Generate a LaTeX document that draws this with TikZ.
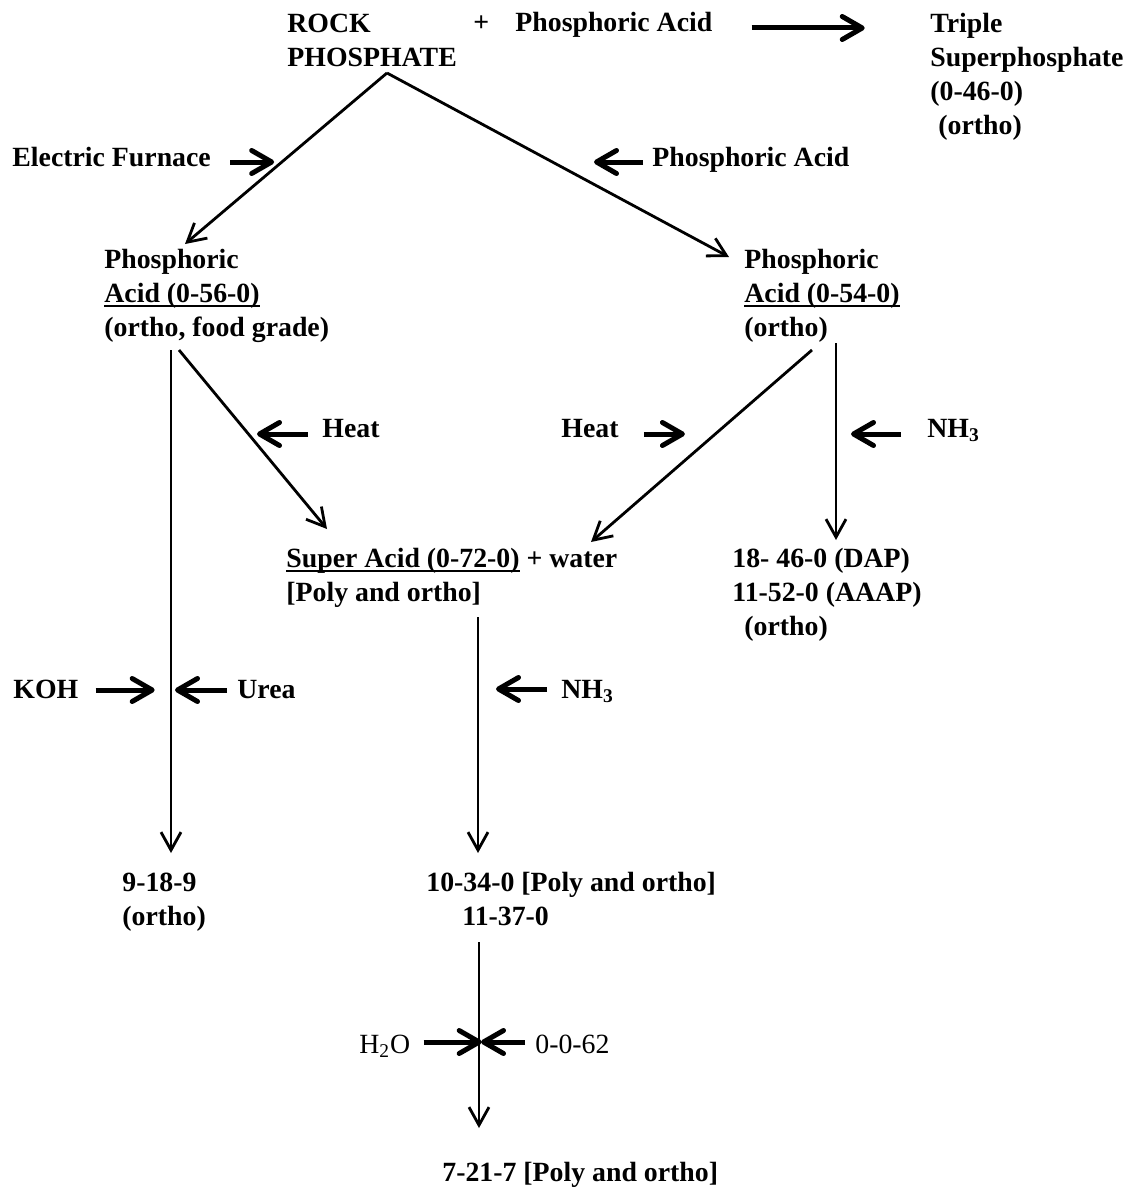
\documentclass[tikz,border=0pt]{standalone}
\usepackage{fontspec}
\setmainfont{Liberation Serif}
\usetikzlibrary{arrows.meta}
\newcommand\flowfont{\fontsize{13.9}{17}\selectfont}
\newcommand\ulbox[1]{\setbox0\hbox{#1}\rlap{\rule[-2.6pt]{\wd0}{1.1pt}}\box0\relax}
\tikzset{
  lbl/.style={anchor=base west, inner sep=0pt, align=left},
  flow/.style={line width=1.4pt, -{Straight Barb[length=9pt,width=10pt]}},
  feed/.style={line width=2.5pt, -{Straight Barb[length=10pt,width=11.5pt,round]}},
}
\begin{document}
\begin{tikzpicture}[x=0.5pt, y=-0.5pt, font=\flowfont\bfseries]
\useasboundingbox (0,0) rectangle (1128,1188);
% base west of a multi-line label sits on its last line
\node[lbl] (rock) at (287, 67) {ROCK\\PHOSPHATE}; % rock
\node[lbl] (plus) at (473, 32) {+}; % plus
\node[lbl] (acidTop) at (515, 32) {Phosphoric Acid}; % acidTop
\node[lbl] (tsp) at (930, 134) {Triple\\Superphosphate\\(0-46-0)\\\hspace*{4pt}(ortho)}; % tsp
\node[lbl] (furnace) at (12, 166) {Electric Furnace}; % furnace
\node[lbl] (acidMid) at (652, 166) {Phosphoric Acid}; % acidMid
\node[lbl] (acidL) at (104, 336) {Phosphoric\\\ulbox{Acid (0-56-0)}\\(ortho, food grade)}; % acidL
\node[lbl] (acidR) at (744, 336) {Phosphoric\\\ulbox{Acid (0-54-0)}\\(ortho)}; % acidR
\node[lbl] (heatL) at (322, 437) {Heat}; % heatL
\node[lbl] (heatR) at (561, 437) {Heat}; % heatR
\node[lbl] (nhR) at (927, 437) {NH\textsubscript{3}}; % nhR
\node[lbl] (super) at (286, 601) {\ulbox{Super Acid (0-72-0)} + water\\{[Poly and ortho]}}; % super
\node[lbl] (dap) at (732, 635) {18- 46-0 (DAP)\\11-52-0 (AAAP)\\\hspace*{6pt}(ortho)}; % dap
\node[lbl] (koh) at (13, 698) {KOH}; % koh
\node[lbl] (urea) at (237, 698) {Urea}; % urea
\node[lbl] (nhM) at (561, 698) {NH\textsubscript{3}}; % nhM
\node[lbl] (nineteen) at (122, 925) {9-18-9\\(ortho)}; % nineteen
\node[lbl] (tenth) at (426, 925) {10-34-0 [Poly and ortho]\\\hspace*{18pt}11-37-0}; % tenth
\node[lbl, font=\flowfont\mdseries] (water) at (359, 1053) {H\textsubscript{2}O}; % water
\node[lbl, font=\flowfont\mdseries] (potash) at (535, 1053) {0-0-62}; % potash
\node[lbl] (seventh) at (442, 1181) {7-21-7 [Poly and ortho]}; % seventh
\coordinate (apex) at (387, 73);
\coordinate (tipL) at (185, 244);
\coordinate (tipR) at (729, 257);
\coordinate (topL) at (171, 350);
\coordinate (endL) at (171, 853);
\coordinate (diagL) at (179, 350);
\coordinate (tipS) at (327, 529);
\coordinate (diagR) at (812, 350);
\coordinate (tipS2) at (591, 542);
\coordinate (topR) at (836, 343);
\coordinate (endR) at (836, 540);
\coordinate (topM) at (478, 617);
\coordinate (endM) at (478, 853);
\coordinate (topB) at (479, 942);
\coordinate (endB) at (479, 1128);
\draw[flow] (apex) -- (tipL); % apex-acidL
\draw[flow] (apex) -- (tipR); % apex-acidR
\draw[flow] (topL) -- (endL); % acidL-nineteen
\draw[flow] (diagL) -- (tipS); % acidL-super
\draw[flow] (diagR) -- (tipS2); % acidR-super
\draw[flow] (topR) -- (endR); % acidR-dap
\draw[flow] (topM) -- (endM); % super-tenth
\draw[flow] (topB) -- (endB); % tenth-seventh
\draw[feed] ([shift={(39,-4)}]acidTop.base east) -- ++(113,0); % acidTop-tsp
\draw[feed] ([shift={(19,-4)}]furnace.base east) -- ++(44,0); % furnace
\draw[feed] ([shift={(-9,-4)}]acidMid.base west) -- ++(-49,0); % acidMid
\draw[feed] ([shift={(-14,-3)}]heatL.base west) -- ++(-51,0); % heatL
\draw[feed] ([shift={(25,-3)}]heatR.base east) -- ++(41,0); % heatR
\draw[feed] ([shift={(-26,-3)}]nhR.base west) -- ++(-50,0); % nhR
\draw[feed] ([shift={(17,-8)}]koh.base east) -- ++(59,0); % koh
\draw[feed] ([shift={(-10,-8)}]urea.base west) -- ++(-52,0); % urea
\draw[feed] ([shift={(-14,-9)}]nhM.base west) -- ++(-51,0); % nhM
\draw[feed] ([shift={(13,-11)}]water.base east) -- ++(58,0); % water
\draw[feed] ([shift={(-10,-11)}]potash.base west) -- ++(-44,0); % potash
\end{tikzpicture}
\end{document}
